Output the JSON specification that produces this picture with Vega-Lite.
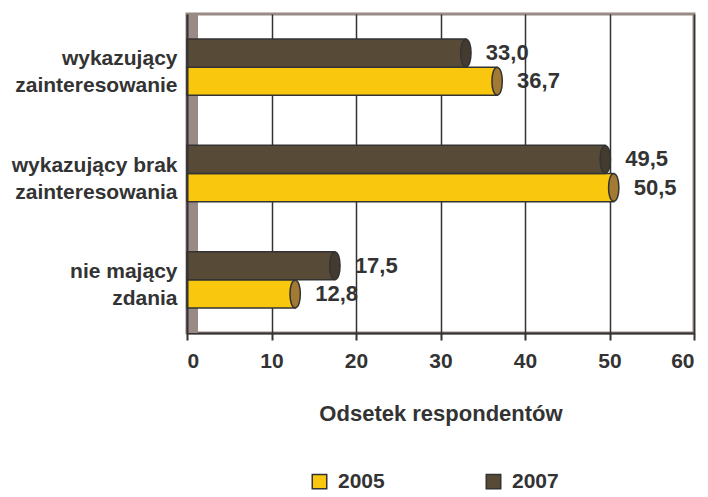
{
  "$schema": "https://vega.github.io/schema/vega-lite/v6.json",
  "autosize": "none",
  "padding": {"left": 187, "top": 14, "right": 14, "bottom": 164},
  "width": 507,
  "height": 319,
  "background": "#ffffff",
  "config": {
    "font": "Liberation Sans",
    "view": {"stroke": "#9a8a86", "strokeWidth": 3}
  },
  "data": {
    "values": [
      {"kategoria": "wykazujący zainteresowanie", "rok": "2005", "odsetek": 36.7, "etykieta": "36,7"},
      {"kategoria": "wykazujący zainteresowanie", "rok": "2007", "odsetek": 33.0, "etykieta": "33,0"},
      {"kategoria": "wykazujący brak zainteresowania", "rok": "2005", "odsetek": 50.5, "etykieta": "50,5"},
      {"kategoria": "wykazujący brak zainteresowania", "rok": "2007", "odsetek": 49.5, "etykieta": "49,5"},
      {"kategoria": "nie mający zdania", "rok": "2005", "odsetek": 12.8, "etykieta": "12,8"},
      {"kategoria": "nie mający zdania", "rok": "2007", "odsetek": 17.5, "etykieta": "17,5"}
    ]
  },
  "encoding": {
    "x": {
      "field": "odsetek",
      "type": "quantitative",
      "scale": {"domain": [0, 60], "nice": false},
      "axis": {
        "title": "Odsetek respondentów",
        "values": [0, 10, 20, 30, 40, 50, 60],
        "domainColor": "#333333",
        "domainWidth": 2,
        "tickColor": "#333333",
        "tickWidth": 2,
        "tickSize": 7,
        "grid": true,
        "gridColor": "#333333",
        "gridWidth": 1.5,
        "labelFont": "Liberation Sans",
        "labelFontSize": 21,
        "labelFontWeight": "bold",
        "labelColor": "#333333",
        "labelPadding": 10,
        "titleFont": "Liberation Sans",
        "titleFontSize": 22,
        "titleFontWeight": "bold",
        "titleColor": "#333333",
        "titlePadding": 32
      }
    }
  },
  "layer": [
    {
      "mark": {"type": "rule", "color": "#9a8a86", "strokeWidth": 11, "xOffset": 5.5},
      "encoding": {"x": {"datum": 0, "type": "quantitative"}}
    },
    {
      "mark": {"type": "bar", "stroke": "#333333", "strokeWidth": 1.5},
      "encoding": {
        "y": {
          "field": "kategoria",
          "type": "nominal",
          "sort": ["wykazujący zainteresowanie", "wykazujący brak zainteresowania", "nie mający zdania"],
          "scale": {"paddingInner": 0.47, "paddingOuter": 0.235},
          "axis": {
            "title": null,
            "zindex": 1,
            "domainColor": "#333333",
            "domainWidth": 2,
            "ticks": false,
            "labelFont": "Liberation Sans",
            "labelFontSize": 21,
            "labelFontWeight": "bold",
            "labelColor": "#333333",
            "labelLineHeight": 27,
            "labelPadding": 10,
            "labelOffset": -8,
            "labelLimit": 300,
            "labelExpr": "[slice(datum.value, 0, lastindexof(datum.value, ' ')), slice(datum.value, lastindexof(datum.value, ' ') + 1)]"
          }
        },
        "yOffset": {"field": "rok", "type": "nominal", "sort": ["2007", "2005"]},
        "color": {
          "field": "rok",
          "type": "nominal",
          "scale": {"domain": ["2005", "2007"], "range": ["#f9c70e", "#574b37"]},
          "legend": {
            "title": null,
            "orient": "none",
            "direction": "horizontal",
            "legendX": 122,
            "legendY": 457,
            "symbolType": "square",
            "symbolSize": 210,
            "symbolStrokeColor": "#333333",
            "symbolStrokeWidth": 1.5,
            "symbolOpacity": 1,
            "labelFont": "Liberation Sans",
            "labelFontSize": 21,
            "labelFontWeight": "bold",
            "labelColor": "#333333",
            "labelOffset": 8,
            "columnPadding": 98
          }
        }
      }
    },
    {
      "mark": {"type": "point", "shape": "M0,-1 C0.5,-1 0.5,1 0,1 C-0.5,1 -0.5,-1 0,-1 Z", "size": 760, "filled": true, "opacity": 1, "stroke": "#333333", "strokeWidth": 1.5},
      "encoding": {
        "y": {"field": "kategoria", "type": "nominal", "sort": ["wykazujący zainteresowanie", "wykazujący brak zainteresowania", "nie mający zdania"]},
        "yOffset": {"field": "rok", "type": "nominal", "sort": ["2007", "2005"]},
        "fill": {"field": "rok", "type": "nominal", "scale": {"domain": ["2005", "2007"], "range": ["#a27a33", "#433b30"]}, "legend": null}
      }
    },
    {
      "mark": {"type": "text", "align": "left", "baseline": "middle", "dx": 20, "fontSize": 22, "fontWeight": "bold", "color": "#333333", "font": "Liberation Sans"},
      "encoding": {
        "y": {"field": "kategoria", "type": "nominal", "sort": ["wykazujący zainteresowanie", "wykazujący brak zainteresowania", "nie mający zdania"]},
        "yOffset": {"field": "rok", "type": "nominal", "sort": ["2007", "2005"]},
        "text": {"field": "etykieta", "type": "nominal"}
      }
    }
  ]
}
